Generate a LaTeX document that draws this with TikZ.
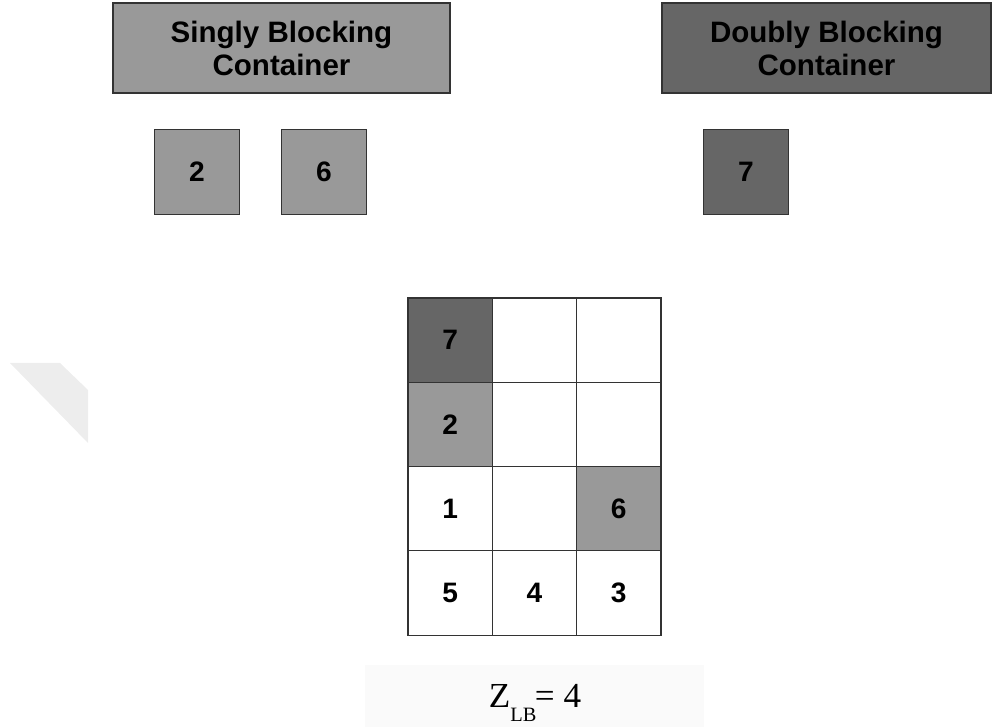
\documentclass[tikz,border=0pt]{standalone}
\usepackage{fontspec}
\setmainfont{Liberation Sans}
\newfontfamily\timesfont{Liberation Serif}
\definecolor{single}{HTML}{999999}
\definecolor{double}{HTML}{666666}
\tikzset{
  block/.style={draw=black!80, line width=0.8pt, minimum width=2.11cm, minimum height=2.11cm,
    inner sep=0pt, font=\fontsize{20}{24}\selectfont\bfseries},
  header/.style={draw=black!80, line width=0.8pt, minimum height=2.25cm, align=center,
    inner sep=0pt, font=\fontsize{21}{23.5}\selectfont\bfseries},
}
\begin{document}
\begin{tikzpicture}[x=0.025cm, y=-0.025cm]
        \useasboundingbox (0,0) rectangle (992,727);
        \fill[black!7] (10,363) -- (60,363) -- (88,390) -- (88,443) -- cycle;

        \node[header, fill=single, minimum width=8.425cm] (singly) at (281.5,48) {Singly Blocking\\Container};
        \node[header, fill=double, minimum width=8.225cm] (doubly) at (826.5,48) {Doubly Blocking\\Container};

        \node[block, fill=single] (two) at (197,172) {2};
        \node[block, fill=single] (six) at (324,172) {6};
        \node[block, fill=double] (seven) at (746,172) {7};

        % the bay: column/tier/label/fill
        \foreach \c/\r/\lbl/\col in {1/1/7/double, 2/1//white, 3/1//white,
                                     1/2/2/single, 2/2//white, 3/2//white,
                                     1/3/1/white, 2/3//white, 3/3/6/single,
                                     1/4/5/white, 2/4/4/white, 3/4/3/white}
            \node[block, fill=\col] (cell-\c-\r) at ({408+84.3*(\c-0.5)}, {298+84.3*(\r-0.5)}) {\lbl};

        \fill[black!2] (365,665) rectangle (704,727);
        \node[font=\timesfont\fontsize{25}{30}\selectfont] (zlb) at (535,703)
            {Z\raisebox{-10.5pt}{\fontsize{14.5}{18}\selectfont LB}\hspace{-1pt}= 4};
    \end{tikzpicture}
\end{document}
